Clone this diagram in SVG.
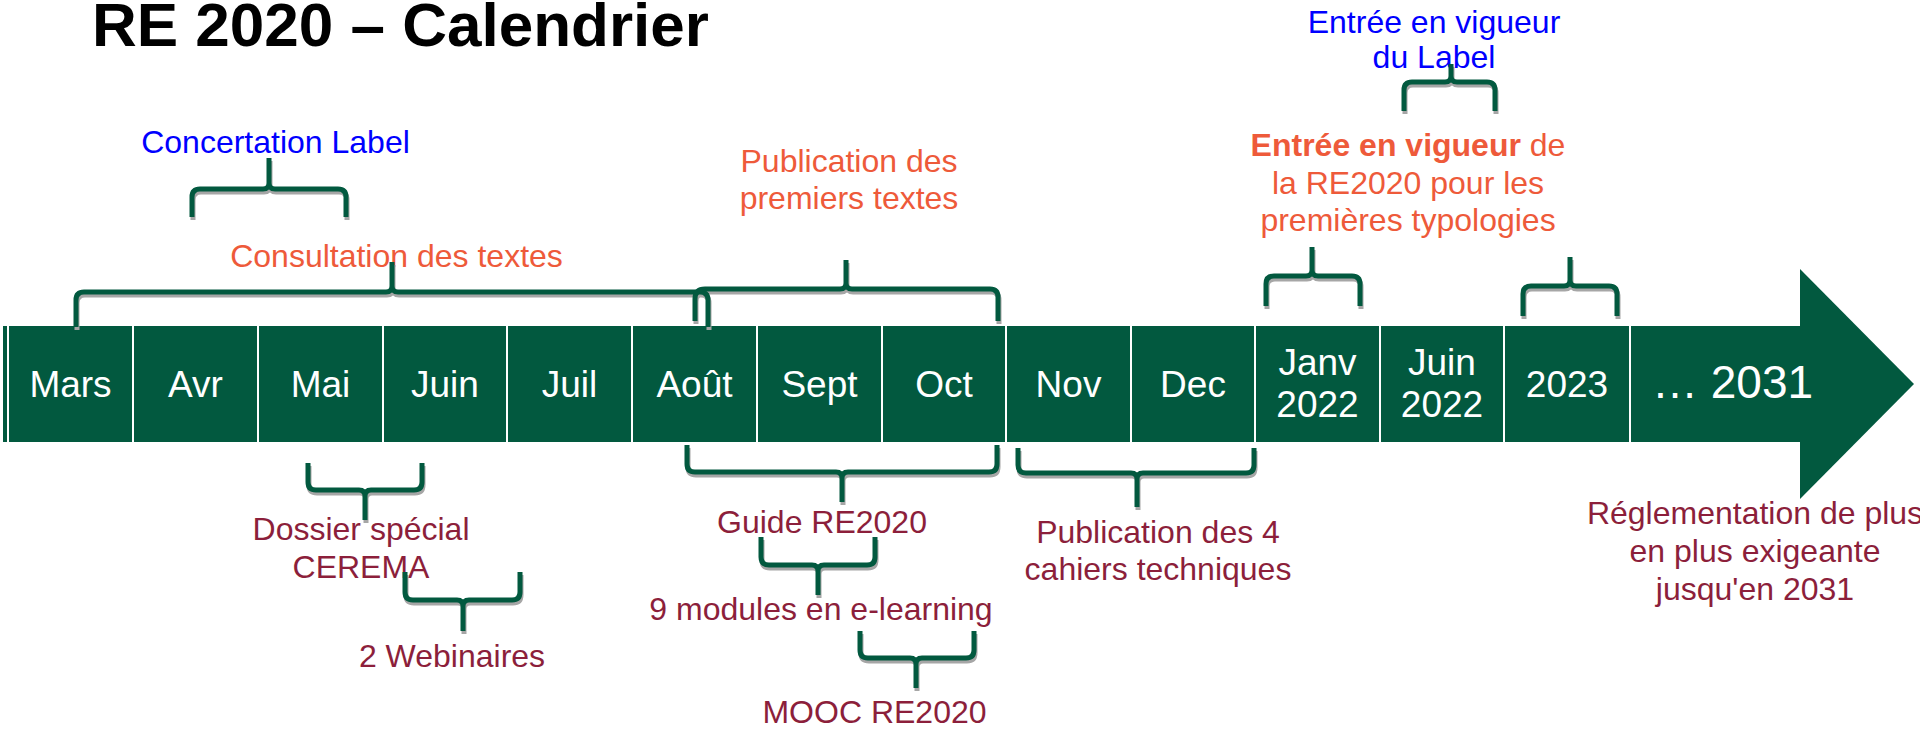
<svg xmlns="http://www.w3.org/2000/svg" width="1920" height="729" viewBox="0 0 1920 729">
<style>
text{font-family:"Liberation Sans",Arial,sans-serif}
.t{font-size:62px;font-weight:bold;fill:#000}
.m{font-size:37px;fill:#fff;text-anchor:middle}
.blue{font-size:32px;fill:#0000FF;text-anchor:middle}
.or{font-size:32px;fill:#EE5A3A;text-anchor:middle}
.dr{font-size:32px;fill:#8C1F3B;text-anchor:middle}
.sep{stroke:#fff;stroke-width:2}
.sh{fill:none;stroke:#A6A6A6;stroke-width:5}
.br{fill:none;stroke:#02593F;stroke-width:5;stroke-linejoin:round}
</style>
<rect width="1920" height="729" fill="#fff"/>
<g id="title"><text class="t" x="92" y="46">RE 2020 – Calendrier</text></g>
<g id="timeline">
<rect x="3" y="326" width="1798" height="116" fill="#02593F"/>
<polygon points="1800,269 1914,384 1800,499" fill="#02593F"/>
<g class="sep">
<line x1="8" y1="326" x2="8" y2="442"/>
<line x1="133" y1="326" x2="133" y2="442"/>
<line x1="258" y1="326" x2="258" y2="442"/>
<line x1="383" y1="326" x2="383" y2="442"/>
<line x1="507" y1="326" x2="507" y2="442"/>
<line x1="632" y1="326" x2="632" y2="442"/>
<line x1="757" y1="326" x2="757" y2="442"/>
<line x1="882" y1="326" x2="882" y2="442"/>
<line x1="1006" y1="326" x2="1006" y2="442"/>
<line x1="1131" y1="326" x2="1131" y2="442"/>
<line x1="1255" y1="326" x2="1255" y2="442"/>
<line x1="1380" y1="326" x2="1380" y2="442"/>
<line x1="1504" y1="326" x2="1504" y2="442"/>
<line x1="1630" y1="326" x2="1630" y2="442"/>
</g>
<text class="m" x="70.5" y="397">Mars</text>
<text class="m" x="195.5" y="397">Avr</text>
<text class="m" x="320.5" y="397">Mai</text>
<text class="m" x="445" y="397">Juin</text>
<text class="m" x="569.5" y="397">Juil</text>
<text class="m" x="694.5" y="397">Août</text>
<text class="m" x="819.5" y="397">Sept</text>
<text class="m" x="944" y="397">Oct</text>
<text class="m" x="1068.5" y="397">Nov</text>
<text class="m" x="1193" y="397">Dec</text>
<text class="m" x="1317.5" y="375">Janv</text>
<text class="m" x="1317.5" y="417">2022</text>
<text class="m" x="1442" y="375">Juin</text>
<text class="m" x="1442" y="417">2022</text>
<text class="m" x="1567" y="397">2023</text>
<text x="1652" y="398" font-size="46" fill="#fff">… 2031</text>
</g>
<g id="concertation"><text class="blue" x="275.5" y="153">Concertation Label</text></g>
<g id="consultation"><text class="or" x="396.5" y="267">Consultation des textes</text></g>
<g id="publication"><text class="or" x="849" y="172">Publication des</text><text class="or" x="849" y="209">premiers textes</text></g>
<g id="label"><text class="blue" x="1434" y="33">Entrée en vigueur</text><text class="blue" x="1434" y="68">du Label</text></g>
<g id="entree"><text class="or" x="1408" y="156"><tspan font-weight="bold">Entrée en vigueur</tspan> de</text><text class="or" x="1408" y="193.5">la RE2020 pour les</text><text class="or" x="1408" y="231">premières typologies</text></g>
<g id="dossier"><text class="dr" x="361" y="540">Dossier spécial</text><text class="dr" x="361" y="578">CEREMA</text></g>
<g id="webinaires"><text class="dr" x="452" y="667">2 Webinaires</text></g>
<g id="guide"><text class="dr" x="822" y="533">Guide RE2020</text></g>
<g id="elearning"><text class="dr" x="821" y="620">9 modules en e-learning</text></g>
<g id="mooc"><text class="dr" x="874.5" y="723">MOOC RE2020</text></g>
<g id="cahiers"><text class="dr" x="1158" y="543">Publication des 4</text><text class="dr" x="1158" y="580">cahiers techniques</text></g>
<g id="reglementation"><text class="dr" x="1755" y="524">Réglementation de plus</text><text class="dr" x="1755" y="562">en plus exigeante</text><text class="dr" x="1755" y="600">jusqu'en 2031</text></g>
<g id="connectors">
<g class="sh" transform="translate(1,3)">
<path d="M192 217 V197 Q192 189 200 189 H263 Q269 189 269 183 V158 M269 183 Q269 189 275 189 H338 Q346 189 346 197 V217"/>
<path d="M76 327 V300 Q76 292 84 292 H386 Q392 292 392 286 V262 M392 286 Q392 292 398 292 H700 Q708 292 708 300 V327"/>
<path d="M695 321 V299 Q695 289 705 289 H840 Q846 289 846 283 V260 M846 283 Q846 289 852 289 H990 Q998 289 998 297 V321"/>
<path d="M1404 111 V90 Q1404 82 1412 82 H1445 Q1451 82 1451 76 V64 M1451 76 Q1451 82 1457 82 H1487 Q1495 82 1495 90 V111"/>
<path d="M1266 306 V284 Q1266 276 1274 276 H1306 Q1312 276 1312 270 V247 M1312 270 Q1312 276 1318 276 H1352 Q1360 276 1360 284 V306"/>
<path d="M1523 316 V294 Q1523 286 1531 286 H1564 Q1570 286 1570 280 V257 M1570 280 Q1570 286 1576 286 H1609 Q1617 286 1617 294 V316"/>
<path d="M308 463 V482 Q308 490 316 490 H359 Q365 490 365 496 V520 M365 496 Q365 490 371 490 H414 Q422 490 422 482 V463"/>
<path d="M405 572 V592 Q405 600 413 600 H457 Q463 600 463 606 V631 M463 606 Q463 600 469 600 H512 Q520 600 520 592 V572"/>
<path d="M687 445 V464 Q687 472 695 472 H836 Q842 472 842 478 V502 M842 478 Q842 472 848 472 H989 Q997 472 997 464 V445"/>
<path d="M761 537 V557 Q761 565 769 565 H812 Q818 565 818 571 V595 M818 571 Q818 565 824 565 H867 Q875 565 875 557 V537"/>
<path d="M860 631 V650 Q860 658 868 658 H910 Q916 658 916 664 V688 M916 664 Q916 658 922 658 H966 Q974 658 974 650 V631"/>
<path d="M1018 448 V465 Q1018 473 1026 473 H1131 Q1137 473 1137 479 V507 M1137 479 Q1137 473 1143 473 H1246 Q1254 473 1254 465 V448"/>
</g>
<g class="br">
<path d="M192 217 V197 Q192 189 200 189 H263 Q269 189 269 183 V158 M269 183 Q269 189 275 189 H338 Q346 189 346 197 V217"/>
<path d="M76 327 V300 Q76 292 84 292 H386 Q392 292 392 286 V262 M392 286 Q392 292 398 292 H700 Q708 292 708 300 V327"/>
<path d="M695 321 V299 Q695 289 705 289 H840 Q846 289 846 283 V260 M846 283 Q846 289 852 289 H990 Q998 289 998 297 V321"/>
<path d="M1404 111 V90 Q1404 82 1412 82 H1445 Q1451 82 1451 76 V64 M1451 76 Q1451 82 1457 82 H1487 Q1495 82 1495 90 V111"/>
<path d="M1266 306 V284 Q1266 276 1274 276 H1306 Q1312 276 1312 270 V247 M1312 270 Q1312 276 1318 276 H1352 Q1360 276 1360 284 V306"/>
<path d="M1523 316 V294 Q1523 286 1531 286 H1564 Q1570 286 1570 280 V257 M1570 280 Q1570 286 1576 286 H1609 Q1617 286 1617 294 V316"/>
<path d="M308 463 V482 Q308 490 316 490 H359 Q365 490 365 496 V520 M365 496 Q365 490 371 490 H414 Q422 490 422 482 V463"/>
<path d="M405 572 V592 Q405 600 413 600 H457 Q463 600 463 606 V631 M463 606 Q463 600 469 600 H512 Q520 600 520 592 V572"/>
<path d="M687 445 V464 Q687 472 695 472 H836 Q842 472 842 478 V502 M842 478 Q842 472 848 472 H989 Q997 472 997 464 V445"/>
<path d="M761 537 V557 Q761 565 769 565 H812 Q818 565 818 571 V595 M818 571 Q818 565 824 565 H867 Q875 565 875 557 V537"/>
<path d="M860 631 V650 Q860 658 868 658 H910 Q916 658 916 664 V688 M916 664 Q916 658 922 658 H966 Q974 658 974 650 V631"/>
<path d="M1018 448 V465 Q1018 473 1026 473 H1131 Q1137 473 1137 479 V507 M1137 479 Q1137 473 1143 473 H1246 Q1254 473 1254 465 V448"/>
</g>
</g>
</svg>
